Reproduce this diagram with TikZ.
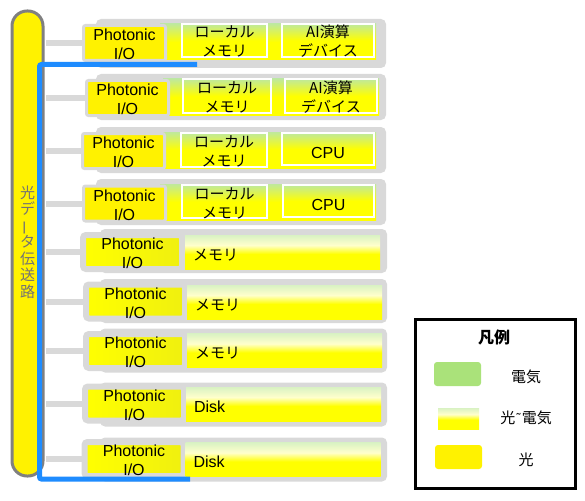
\documentclass[tikz,border=0pt]{standalone}
\usepackage{fontspec}
\setmainfont{Liberation Sans}
\newfontfamily\jp{Noto Sans CJK JP}
\newfontfamily\sym{DejaVu Sans}
\definecolor{bggray}{RGB}{217,217,217}
\definecolor{bargray}{RGB}{128,128,128}
\definecolor{optblue}{RGB}{30,140,255}
\definecolor{elec}{RGB}{170,226,122}
\pgfdeclareverticalshading{elecopt}{100bp}{color(0bp)=(yellow); color(25bp)=(yellow); color(50bp)=(yellow); color(75bp)=(elec!75!white); color(100bp)=(elec!75!white)}
\pgfdeclareverticalshading{optmix}{100bp}{color(0bp)=(yellow); color(25bp)=(yellow); color(47bp)=(yellow); color(60bp)=(yellow!20!white); color(75bp)=(elec!45!white); color(100bp)=(elec!45!white)}

\begin{document}
\begin{tikzpicture}[x=1pt,y=-1pt]
    \tikzstyle{every node} = [inner sep=0pt, font=\fontsize{16}{19}\selectfont];
    \tikzstyle{jptxt} = [font=\jp\fontsize{15}{19}\selectfont];
    \tikzstyle{bgbox} = [fill=bggray, rounded corners=5pt];
    \tikzstyle{link} = [draw=bggray, line width=6pt];
    \tikzstyle{band} = [shade, shading=elecopt];
    \tikzstyle{pio} = [fill=yellow, draw=bggray, line width=3pt, rounded corners=2pt, align=center, minimum width=82pt, minimum height=35pt, text height=33pt, text depth=-2pt];
    \tikzstyle{pios} = [left color=yellow, right color=yellow!88!gray, draw=bggray, line width=6pt, rounded corners=3pt, align=center, minimum width=99pt, minimum height=34pt, text height=33pt, text depth=-2pt];
    \tikzstyle{inbox} = [shade, shading=elecopt, draw=white, line width=2pt, align=center, minimum height=33pt, jptxt, text height=33pt, text depth=-2pt];
    \tikzstyle{cpubox} = [shade, shading=elecopt, draw=white, line width=2pt, minimum height=32pt, text height=18pt, text depth=0pt];
    \tikzstyle{store} = [shade, shading=optmix, minimum height=34pt, text width=179pt, inner xsep=8pt, align=left, text height=16pt, text depth=0pt];
    \useasboundingbox (0,0) rectangle (585,500);

    % optical data path
    \node[fill=yellow, draw=bargray, line width=3pt, rounded corners=15pt, minimum width=31pt, minimum height=465pt] (bar) at (27.5,243.5) {};
    \node[font=\jp\fontsize{15}{16.5}\selectfont, text=bargray!90!black, align=center] (barlabel) at (27.5,242) {光\\デ\\\rotatebox[origin=c]{90}{ー}\\タ\\伝\\送\\路};

    % row backgrounds
    \node[bgbox, minimum width=290pt, minimum height=49pt] (bg1) at (241,43.5) {};
    \node[bgbox, minimum width=290pt, minimum height=46pt] (bg2) at (241,97) {};
    \node[bgbox, minimum width=290pt, minimum height=46pt] (bg3) at (241,150) {};
    \node[bgbox, minimum width=290pt, minimum height=46pt] (bg4) at (241,202) {};
    \node[bgbox, minimum width=287pt, minimum height=44pt] (bg5) at (243.5,251) {};
    \node[bgbox, minimum width=287pt, minimum height=44pt] (bg6) at (243.5,301) {};
    \node[bgbox, minimum width=287pt, minimum height=44pt] (bg7) at (243.5,350.5) {};
    \node[bgbox, minimum width=287pt, minimum height=44pt] (bg8) at (243.5,404.5) {};
    \node[bgbox, minimum width=287pt, minimum height=44pt] (bg9) at (243.5,459.5) {};

    % compute rows
    \node[band, minimum width=216pt, minimum height=36pt] (band1) at (268,42) {};
    \node[band, minimum width=216pt, minimum height=36pt] (band2) at (271,97) {};
    \node[band, minimum width=216pt, minimum height=36pt] (band3) at (268,150) {};
    \node[band, minimum width=216pt, minimum height=36pt] (band4) at (268,202) {};
    \node[pio] (pio1) at (124.5,43) {Photonic\\I/O};
    \node[pio] (pio2) at (127.5,98) {Photonic\\I/O};
    \node[pio] (pio3) at (123.5,151) {Photonic\\I/O};
    \node[pio] (pio4) at (124.5,203.5) {Photonic\\I/O};
    \node[inbox, minimum width=85pt] (mem1) at (224.5,40.5) {ローカル\\メモリ};
    \node[inbox, minimum width=92pt] (dev1) at (328,40.5) {AI演算\\デバイス};
    \node[inbox, minimum width=88pt, minimum height=34pt] (mem2) at (227,96) {ローカル\\メモリ};
    \node[inbox, minimum width=92pt, minimum height=34pt] (dev2) at (331,96) {AI演算\\デバイス};
    \node[inbox, minimum width=86pt, minimum height=34pt] (mem3) at (224,150) {ローカル\\メモリ};
    \node[cpubox, minimum width=92pt] (cpu3) at (328,149) {CPU};
    \node[inbox, minimum width=85pt] (mem4) at (224.5,201.5) {ローカル\\メモリ};
    \node[cpubox, minimum width=91pt] (cpu4) at (328.5,201) {CPU};

    % memory and disk rows
    \node[pios] (pio5) at (132.5,252) {Photonic\\I/O};
    \node[pios] (pio6) at (135.5,301.5) {Photonic\\I/O};
    \node[pios] (pio7) at (135.5,351) {Photonic\\I/O};
    \node[pios] (pio8) at (134.5,403.5) {Photonic\\I/O};
    \node[pios] (pio9) at (134,459) {Photonic\\I/O};
    \node[store, jptxt] (mem5) at (282.5,252) {メモリ};
    \node[store, jptxt] (mem6) at (284.5,302) {メモリ};
    \node[store, jptxt] (mem7) at (284.5,350.5) {メモリ};
    \node[store] (disk8) at (283.5,404) {Disk};
    \node[store] (disk9) at (283,459.5) {Disk};

    % links from the data path
    \draw[link] ([xshift=1.5pt]bar.east |- pio1) -- (pio1.west);
    \draw[link] ([xshift=1.5pt]bar.east |- pio2) -- (pio2.west);
    \draw[link] ([xshift=1.5pt]bar.east |- pio3) -- (pio3.west);
    \draw[link] ([xshift=1.5pt]bar.east |- pio4) -- (pio4.west);
    \draw[link] ([xshift=1.5pt]bar.east |- pio5) -- (pio5.west);
    \draw[link] ([xshift=1.5pt]bar.east |- pio6) -- (pio6.west);
    \draw[link] ([xshift=1.5pt]bar.east |- pio7) -- (pio7.west);
    \draw[link] ([xshift=1.5pt]bar.east |- pio8) -- (pio8.west);
    \draw[link] ([xshift=1.5pt]bar.east |- pio9) -- (pio9.west);

    % blue line
    \coordinate (ob1) at (197,64.5);
    \coordinate (ob2) at (39.5,64.5);
    \coordinate (ob3) at (39.5,479);
    \coordinate (ob4) at (190,479);
    \draw[draw=optblue, line width=5pt, rounded corners=2pt] (ob1) -- (ob2) -- (ob3) -- (ob4);

    % legend
    \node[draw=black, line width=3pt, minimum width=160pt, minimum height=169pt] (legend) at (495,403.5) {};
    \node[font=\jp\bfseries\fontsize{16}{19}\selectfont] (legtitle) at (494,337) {凡例};
    \node[fill=elec, rounded corners=3pt, minimum width=47pt, minimum height=24pt] (swelec) at (457.5,374) {};
    \node[jptxt] (lbelec) at (526,377) {電気};
    \node[shade, shading=optmix, minimum width=41pt, minimum height=21pt] (swmix) at (458.5,418.5) {};
    \node[jptxt] (lbmix) at (526,418) {光{\sym\fontsize{13}{19}\selectfont ˜}電気};
    \node[fill=yellow, rounded corners=3pt, minimum width=47pt, minimum height=24pt] (swopt) at (458.5,457) {};
    \node[jptxt] (lbopt) at (526,460) {光};
\end{tikzpicture}
\end{document}
